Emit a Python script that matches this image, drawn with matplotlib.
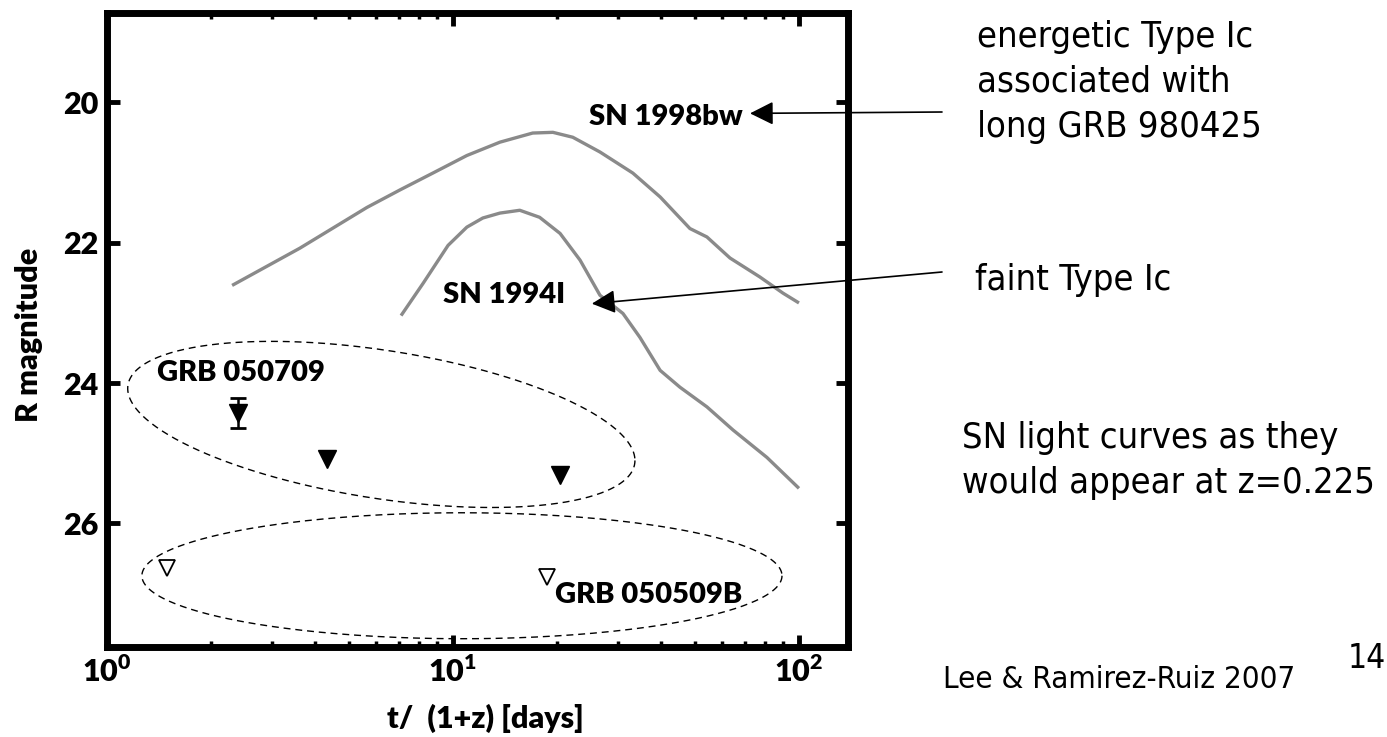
import numpy as np
import matplotlib.pyplot as plt
from matplotlib.ticker import LogLocator, NullLocator, NullFormatter

plt.rcParams['font.family'] = ['Lato', 'DejaVu Sans']
plt.rcParams['font.weight'] = 'heavy'
plt.rcParams['mathtext.fontset'] = 'custom'
plt.rcParams['mathtext.rm'] = 'Lato'
plt.rcParams['mathtext.bf'] = 'Lato:heavy'

# SN light curves redshifted to z=0.225 (rest-frame days, R magnitude)
bw_days = [2.30, 3.61, 5.64, 7.03, 8.75, 10.97, 13.67, 17.0, 19.45, 22.2,
           26.6, 33.1, 39.7, 48.4, 54.2, 63.2, 77.1, 89.9, 100.0]
bw_mag = [22.61, 22.08, 21.50, 21.25, 21.01, 20.76, 20.57, 20.44, 20.43, 20.50,
          20.71, 21.01, 21.35, 21.80, 21.92, 22.22, 22.49, 22.72, 22.86]

sn94_days = [7.08, 8.2, 9.68, 10.97, 12.2, 13.67, 15.6, 17.8, 20.4, 23.3, 26.6,
             31.0, 34.7, 39.7, 45.3, 54.2, 64.5, 80.8, 100.0]
sn94_mag = [23.04, 22.58, 22.04, 21.78, 21.65, 21.58, 21.54, 21.64, 21.87, 22.25,
            22.75, 23.01, 23.35, 23.82, 24.06, 24.34, 24.67, 25.06, 25.50]

# GRB 050709: one detection plus upper limits
det_days = [2.39]
det_mag = [24.43]
det_err = [0.21]
lim_days = [4.32, 20.4]
lim_mag = [25.08, 25.31]

# GRB 050509B upper limits
b_days = [1.49, 18.7]
b_mag = [26.64, 26.76]

# dashed groupings: centre (log10 days, mag), semi-diameters
ell_upper = dict(cx=0.793, cy=24.59, ux=0.733, uy=0.513, vy=1.066)
ell_lower = dict(cx=1.026, cy=26.745, ux=0.925, uy=0.0, vy=0.897)

fig = plt.figure(figsize=(13.87, 7.37), dpi=100)
ax = fig.add_axes([0.0771, 0.1221, 0.5343, 0.8603])

grey = '#8a8a8a'
ax.plot(bw_days, bw_mag, color=grey, lw=2.4, solid_capstyle='butt')
ax.plot(sn94_days, sn94_mag, color=grey, lw=2.4, solid_capstyle='butt')

ax.errorbar(det_days, det_mag, yerr=det_err, fmt='v', color='k', ms=13,
            capsize=6, elinewidth=1.8, capthick=2)
ax.plot(lim_days, lim_mag, 'v', color='k', ms=13)
ax.plot(b_days, b_mag, 'v', mfc='white', mec='k', mew=1.3, ms=11)

phi = np.linspace(0, 2 * np.pi, 400)
for e in (ell_upper, ell_lower):
    lx = e['cx'] + e['ux'] * np.cos(phi)
    my = e['cy'] + e['uy'] * np.cos(phi) + e['vy'] * np.sin(phi)
    ax.plot(10 ** lx, my, color='k', lw=1.0, ls=(0, (5, 3.5)))

ax.set_xscale('log')
ax.set_xlim(1, 138.6)
ax.set_ylim(27.76, 18.73)

ax.set_xticks([1, 10, 100])
ax.set_xticklabels([r'$\mathbf{10}^{\mathrm{0}}$', r'$\mathbf{10}^{\mathrm{1}}$',
                    r'$\mathbf{10}^{\mathrm{2}}$'])
ax.xaxis.set_minor_locator(LogLocator(base=10, subs=np.arange(2, 10)))
ax.xaxis.set_minor_formatter(NullFormatter())
ax.set_yticks([20, 22, 24, 26])
ax.yaxis.set_minor_locator(NullLocator())

ax.tick_params(which='major', direction='in', length=9, width=3.5,
               top=True, right=True, labelsize=22, pad=6)
ax.tick_params(which='minor', direction='in', length=4, width=2.5,
               top=True, right=True)
for s in ax.spines.values():
    s.set_linewidth(5)

# curve and burst labels
ax.text(68.9, 20.33, 'SN 1998bw', ha='right', va='baseline', fontsize=21)
ax.text(9.36, 22.86, 'SN 1994I', ha='left', va='baseline', fontsize=21)
ax.text(1.40, 23.97, 'GRB 050709', ha='left', va='baseline', fontsize=21)
ax.text(19.7, 27.14, 'GRB 050509B', ha='left', va='baseline', fontsize=21)

fig.text(485 / 1387, 1 - 728 / 737, 't/  (1+z) [days]', ha='center',
         va='baseline', fontsize=22)
fig.text(29 / 1387, 1 - 335 / 737, 'R magnitude', rotation=90, ha='center',
         va='center', fontsize=22)

# explanatory notes on the right
note = dict(family='DejaVu Sans', weight='normal', fontstretch='condensed',
            fontsize=26, ha='left', va='baseline')
for txt, yb in zip(['energetic Type Ic', 'associated with', 'long GRB 980425'],
                   [47, 92, 137]):
    fig.text(977 / 1387, 1 - yb / 737, txt, **note)
fig.text(975 / 1387, 1 - 290 / 737, 'faint Type Ic', **note)
for txt, yb in zip(['SN light curves as they', 'would appear at z=0.225'],
                   [448, 493]):
    fig.text(962 / 1387, 1 - yb / 737, txt, **note)
fig.text(943 / 1387, 1 - 688 / 737, 'Lee & Ramirez-Ruiz 2007',
         **{**note, 'fontsize': 22.5})
fig.text(1348 / 1387, 1 - 668 / 737, '14', **{**note, 'fontsize': 24})

arrow = dict(arrowstyle='-|>,head_length=0.4,head_width=0.2', color='k',
             lw=1.2, mutation_scale=36, shrinkA=0, shrinkB=0)
ax.annotate('', xy=(72.2, 20.16), xycoords='data',
            xytext=(942 / 1387, 1 - 112 / 737), textcoords='figure fraction',
            arrowprops=arrow, annotation_clip=False)
ax.annotate('', xy=(25.2, 22.87), xycoords='data',
            xytext=(942 / 1387, 1 - 272 / 737), textcoords='figure fraction',
            arrowprops=arrow, annotation_clip=False)

fig.savefig('out.png', dpi=100, facecolor='white')
